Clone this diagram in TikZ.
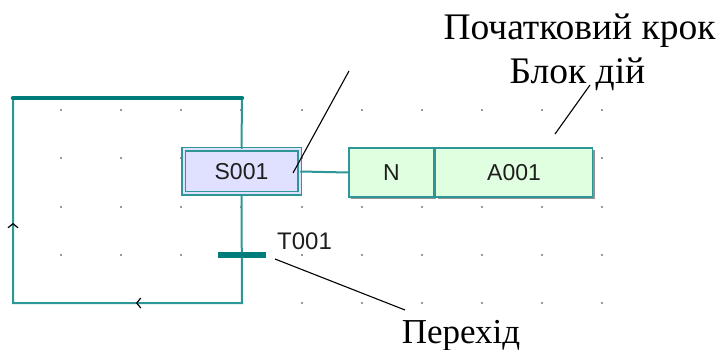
\documentclass[tikz,border=0pt]{standalone}
\usepackage{fontspec}
\setmainfont{Liberation Serif}
\setsansfont{Liberation Sans}
\newfontfamily\capfont{Liberation Serif}
\newfontfamily\boxfont{Liberation Sans}
\usetikzlibrary{decorations.markings,shadows}

\definecolor{wire}{RGB}{46,150,150}
\definecolor{bar}{RGB}{0,125,122}
\definecolor{stepfill}{RGB}{224,224,255}
\definecolor{actfill}{RGB}{224,255,224}
\definecolor{boxtext}{RGB}{30,30,30}
\definecolor{griddot}{RGB}{50,50,50}

\tikzset{
  wireline/.style={draw=wire, line width=2pt},
  thickbar/.style={draw=bar, line width=4.5pt, line cap=round},
  stepbox/.style={rectangle, draw=wire, line width=1.5pt, double=stepfill,
    double distance=2pt, fill=stepfill, inner sep=0pt,
    minimum width=116pt, minimum height=44pt,
    font=\boxfont\fontsize{23}{23}\selectfont, text=boxtext,
    drop shadow={shadow xshift=2pt, shadow yshift=-2pt, fill=gray!85, opacity=1}},
  actcell/.style={rectangle, draw=wire, line width=1.6pt, fill=actfill, inner sep=0pt,
    minimum height=49pt, font=\boxfont\fontsize{23}{23}\selectfont, text=boxtext,
    drop shadow={shadow xshift=2pt, shadow yshift=-2pt, fill=gray!85, opacity=1}},
  transbar/.style={rectangle, fill=bar, inner sep=0pt, minimum width=48pt, minimum height=5pt},
  caption/.style={font=\capfont\fontsize{37.5}{37.5}\selectfont, anchor=base, inner sep=0pt},
  tlabel/.style={font=\boxfont\fontsize{24}{24}\selectfont, text=boxtext, anchor=base west, inner sep=0pt},
  callout/.style={draw=black, line width=1.1pt},
  chevron/.style={draw=black, line width=1.2pt},
  flowmark/.style={postaction={decorate}, decoration={markings,
    mark=at position 214pt with {\draw[chevron] (-4pt,-5pt) -- (0pt,0pt) -- (-4pt,5pt);},
    mark=at position 417pt with {\draw[chevron] (-4pt,-5pt) -- (0pt,0pt) -- (-4pt,5pt);}}}
}

\begin{document}
\begin{tikzpicture}[x=1pt, y=-1pt]
  \useasboundingbox (0,0) rectangle (721,350);

  % grid of dots
  \foreach \gx in {61,121,181,241,302,362,422,482,542,602}
    \foreach \gy in {110,158,207,255,303}
      \fill[griddot] (\gx,\gy) circle (0.9pt);

  % corners of the return loop
  \coordinate (loopbr) at (242,303);
  \coordinate (loopbl) at (13,303);
  \coordinate (looptl) at (13,98);
  \coordinate (looptr) at (242,98);

  % step, transition and action block
  \node[stepbox] (s) at (241.5,171.5) {S001};
  \node[transbar] (t) at (241.5,255) {};
  \node[actcell, minimum width=85pt] (n) at (391.5,172.5) {N};
  \node[actcell, minimum width=157pt, anchor=west] (a) at (n.east) {A001};
  \node[tlabel] (tl) at (277,250) {T001};

  % connectors
  \draw[wireline] (looptr) -- (s.north);
  \draw[wireline] (s.east) -- (n.west);
  \draw[wireline, flowmark] (s.south) -- (loopbr) -- (loopbl) -- (looptl);
  \node[transbar] at (t) {};
  \draw[thickbar] (looptl) -- (looptr);

  % captions with their pointer lines
  \node[caption] (c1) at (579.5,40) {Початковий крок};
  \node[caption] (c2) at (577.5,84) {Блок дій};
  \node[caption, font=\capfont\fontsize{35}{35}\selectfont] (c3) at (461,343) {Перехід};

  \coordinate (p1a) at (293,173);
  \coordinate (p1b) at (349,71);
  \coordinate (p2a) at (555,134);
  \coordinate (p2b) at (590,85);
  \coordinate (p3a) at (275,259);
  \coordinate (p3b) at (405,310);
  \draw[callout] (p1a) -- (p1b);
  \draw[callout] (p2a) -- (p2b);
  \draw[callout] (p3a) -- (p3b);
\end{tikzpicture}
\end{document}
